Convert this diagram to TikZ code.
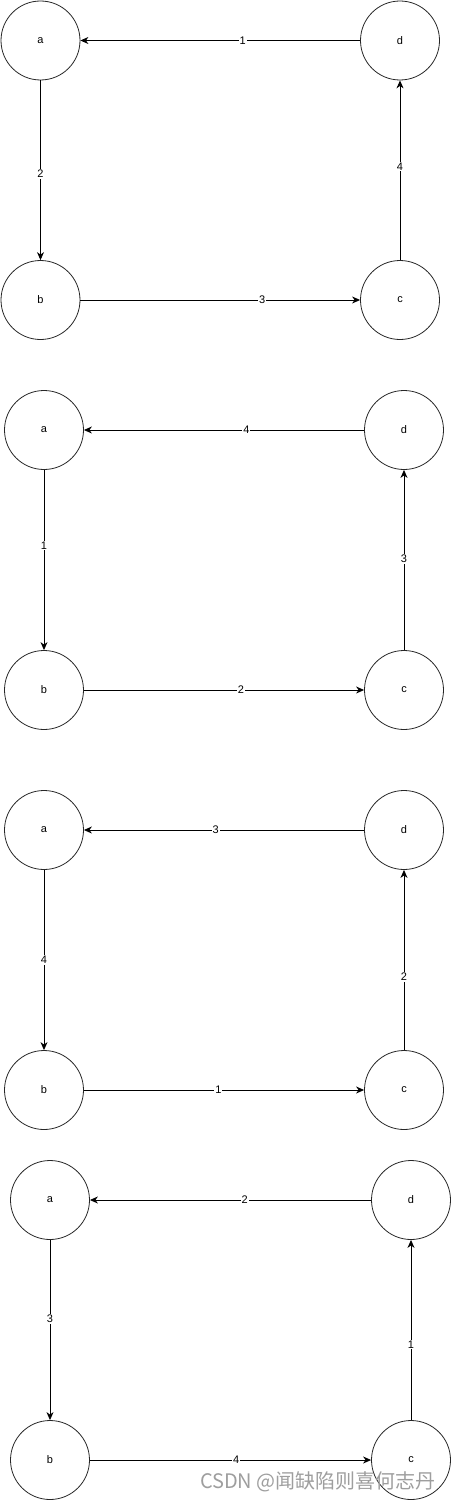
\documentclass[tikz,border=0pt]{standalone}
\usepackage{fontspec}
\setmainfont{Liberation Sans}
\newfontfamily\cjkfont{Noto Sans CJK SC}
\usetikzlibrary{arrows.meta}

\begin{document}
\begin{tikzpicture}[x=1pt, y=-1pt,
  vtx/.style={circle, draw=black!85, line width=0.8pt, minimum size=79pt, inner sep=0pt, font=\fontsize{11}{13}\selectfont},
  edge/.style={line width=0.9pt, -{Stealth[length=8pt,width=7pt,inset=2.5pt]}},
  wt/.style={fill=white, inner sep=1pt, font=\fontsize{11}{13}\selectfont}]
  \useasboundingbox (0,0) rectangle (451,1501);
  % four runs of the same cycle a -> b -> c -> d -> a
  \foreach \p/\xa/\xd/\ya/\yb/\wda/\wab/\wbc/\wcd/\pda/\pab/\pbc/\pcd in {
      1/40.5/400/40.5/300/1/2/3/4/0.42/0.52/0.65/0.52,
      2/44/404/430/690/4/1/2/3/0.42/0.42/0.56/0.505,
      3/44/404/830/1090/3/4/1/2/0.53/0.5/0.48/0.405,
      4/50/411/1200/1460/2/3/4/1/0.45/0.44/0.52/0.42} {
    \node[vtx] (a\p) at (\xa,\ya) {a};
    \node[vtx] (d\p) at (\xd,\ya) {d};
    \node[vtx] (b\p) at (\xa,\yb) {b};
    \node[vtx] (c\p) at (\xd,\yb) {c};
    \draw[edge] (d\p) -- node[wt, pos=\pda] {\wda} (a\p);
    \draw[edge] (a\p) -- node[wt, pos=\pab] {\wab} (b\p);
    \draw[edge] (b\p) -- node[wt, pos=\pbc] {\wbc} (c\p);
    \draw[edge] (c\p) -- node[wt, pos=\pcd] {\wcd} (d\p);
  }
  % watermark
  \node[font=\cjkfont\fontsize{20}{22}\selectfont, text=black!38, anchor=east, inner sep=0pt] (mark) at (436,1482) {CSDN @闻缺陷则喜何志丹};
\end{tikzpicture}
\end{document}
